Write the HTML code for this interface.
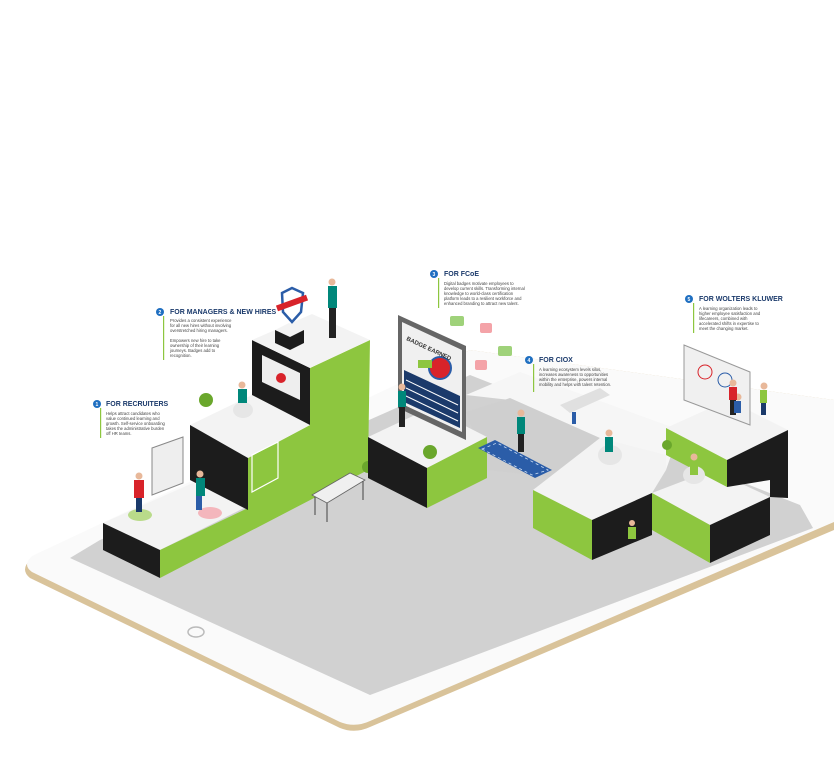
<!DOCTYPE html>
<html><head><meta charset="utf-8"><style>
html,body{margin:0;padding:0;background:#fff;}
body{width:834px;height:772px;overflow:hidden;position:relative;font-family:"Liberation Sans",sans-serif;}
svg{position:absolute;left:0;top:0;}
.h{font-weight:bold;font-size:7px;fill:#1b3a6b;}
.b{font-size:4.2px;fill:#444;}
</style></head><body>
<svg width="834" height="772" viewBox="0 0 834 772">
<!-- tablet -->
<path d="M30,560 Q20,570 30,578 L340,728 Q355,734 370,727 L834,530 L834,400 L470,350 Z" fill="#d9c39a"/>
<path d="M32,556 Q22,565 32,572 L340,722 Q355,728 370,721 L834,522 L834,400 L470,350 Z" fill="#fafafa"/>
<polygon points="70,558 370,695 813,528 800,505 470,375 100,540" fill="#d1d1d1"/>
<ellipse cx="196" cy="632" rx="8" ry="5" fill="none" stroke="#bbb" stroke-width="1.5"/>
<!-- white back area between blocks -->
<polygon points="466,395 520,372 680,430 666,470 600,440 510,400" fill="#f6f6f6"/>
<!-- corridor gray -->
<polygon points="466,412 510,398 600,438 560,478 487,470" fill="#cfcfcf"/>
<!-- block 1 -->
<polygon points="103,523 160,550 250,505 195,482" fill="#f3f3f3"/>
<polygon points="103,523 160,550 160,578 103,550" fill="#1c1c1c"/>
<!-- tower green -->
<polygon points="160,550 248,508 248,458 310,425 310,368 370,340 368,470 160,578" fill="#8dc63f"/>
<!-- step 2 -->
<polygon points="190,425 248,458 310,425 252,395" fill="#f3f3f3"/>
<polygon points="190,425 248,458 248,510 190,480" fill="#1c1c1c"/>
<polygon points="252,340 310,368 310,425 252,395" fill="#1c1c1c"/>
<polygon points="252,340 310,368 370,340 312,314" fill="#f3f3f3"/>
<polygon points="262,355 300,373 300,400 262,382" fill="#eee"/>
<circle cx="281" cy="378" r="5" fill="#d8232a"/>
<polygon points="252,455 278,442 278,478 252,492" fill="none" stroke="#fff" stroke-width="1.2"/>
<!-- bench -->
<polygon points="312,495 350,473 365,480 327,503" fill="#f0f0f0" stroke="#666" stroke-width="0.8"/>
<line x1="315" y1="497" x2="315" y2="515" stroke="#444"/><line x1="327" y1="503" x2="327" y2="522" stroke="#444"/><line x1="363" y1="481" x2="363" y2="500" stroke="#444"/>
<circle cx="368" cy="467" r="6" fill="#6aa72c"/>
<!-- block 3 -->
<polygon points="368,437 427,468 487,437 430,408" fill="#f3f3f3"/>
<polygon points="368,437 427,468 427,508 368,478" fill="#1c1c1c"/>
<polygon points="427,468 487,437 487,478 427,508" fill="#8dc63f"/>
<circle cx="430" cy="452" r="7" fill="#6aa72c"/>
<!-- badge panel -->
<polygon points="398,315 466,346 466,440 398,408" fill="#666"/>
<polygon points="402,322 462,350 462,432 402,404" fill="#f0f0f0"/>
<polygon points="404,370 460,396 460,428 404,402" fill="#1b3a6b"/>
<line x1="406" y1="380" x2="458" y2="405" stroke="#fff" stroke-width="1"/>
<line x1="406" y1="388" x2="458" y2="413" stroke="#fff" stroke-width="1"/>
<line x1="406" y1="396" x2="458" y2="421" stroke="#fff" stroke-width="1"/>
<circle cx="440" cy="368" r="11" fill="#d8232a" stroke="#2b5da8" stroke-width="2"/>
<rect x="418" y="360" width="14" height="8" fill="#8dc63f"/>
<text x="406" y="340" font-size="6" font-weight="bold" fill="#333" transform="rotate(25 406 340)">BADGE EARNED</text>
<!-- blue mat -->
<polygon points="478,448 535,478 552,470 495,440" fill="#2b5da8"/>
<polygon points="482,449 532,475 548,470 497,443" fill="none" stroke="#cfe0f5" stroke-width="0.8" stroke-dasharray="3 3"/>
<!-- kiosk -->
<polygon points="560,405 600,388 610,395 570,413" fill="#e0e0e0"/>
<rect x="572" y="412" width="4" height="12" fill="#2b5da8"/>
<!-- chat bubbles -->
<rect x="450" y="316" width="14" height="10" rx="2" fill="#9fd27a"/>
<rect x="480" y="323" width="12" height="10" rx="2" fill="#f4a3a8"/>
<rect x="498" y="346" width="14" height="10" rx="2" fill="#9fd27a"/>
<rect x="475" y="360" width="12" height="10" rx="2" fill="#f4a3a8"/>
<!-- right cluster big block -->
<polygon points="533,490 592,520 652,493 666,470 666,455 600,438" fill="#f3f3f3"/>
<polygon points="533,490 592,520 592,560 533,528" fill="#8dc63f"/>
<polygon points="592,520 652,493 652,535 592,560" fill="#1c1c1c"/>
<!-- lower right block -->
<polygon points="652,493 710,525 770,497 712,470" fill="#f3f3f3"/>
<polygon points="652,493 710,525 710,563 652,530" fill="#8dc63f"/>
<polygon points="710,525 770,497 770,535 710,563" fill="#1c1c1c"/>
<!-- block 5 -->
<polygon points="666,428 727,460 788,430 728,400" fill="#f3f3f3"/>
<polygon points="666,428 727,460 727,487 666,455" fill="#8dc63f"/>
<polygon points="727,460 788,430 788,498 770,497 770,480 727,487" fill="#1c1c1c"/>
<polygon points="684,345 750,372 750,425 684,400" fill="#f0f0f0" stroke="#999"/>
<circle cx="705" cy="372" r="7" fill="none" stroke="#d8232a"/><circle cx="725" cy="380" r="7" fill="none" stroke="#2b5da8"/>
<!-- people -->
<g fill="#e8b89a"><circle cx="139" cy="476" r="3.5"/><circle cx="200" cy="474" r="3.5"/><circle cx="242" cy="385" r="3.5"/><circle cx="332" cy="282" r="3.5"/><circle cx="402" cy="387" r="3.5"/><circle cx="521" cy="413" r="3.5"/><circle cx="609" cy="433" r="3.5"/><circle cx="694" cy="457" r="3.5"/><circle cx="733" cy="383" r="3.5"/><circle cx="764" cy="386" r="3.5"/><circle cx="738" cy="397" r="3.5"/><circle cx="632" cy="523" r="3"/></g>
<ellipse cx="140" cy="515" rx="12" ry="6" fill="#b9db8a"/><ellipse cx="210" cy="513" rx="12" ry="6" fill="#f4b6bc"/>
<rect x="134" y="480" width="10" height="18" fill="#d8232a"/><rect x="136" y="498" width="6" height="14" fill="#1b3a6b"/>
<rect x="196" y="478" width="9" height="18" fill="#00877a"/><rect x="196" y="496" width="6" height="14" fill="#2b5da8"/>
<ellipse cx="243" cy="410" rx="10" ry="8" fill="#e6e6e6"/><rect x="238" y="389" width="9" height="14" fill="#00877a"/>
<rect x="328" y="286" width="9" height="22" fill="#00877a"/><rect x="329" y="308" width="7" height="30" fill="#222"/>
<rect x="398" y="391" width="8" height="16" fill="#00877a"/><rect x="399" y="407" width="6" height="20" fill="#222"/>
<rect x="517" y="417" width="8" height="17" fill="#00877a"/><rect x="518" y="434" width="6" height="18" fill="#222"/>
<ellipse cx="610" cy="455" rx="12" ry="10" fill="#e6e6e6"/><rect x="605" y="437" width="8" height="15" fill="#00877a"/>
<ellipse cx="694" cy="475" rx="11" ry="9" fill="#e6e6e6"/><rect x="690" y="461" width="8" height="14" fill="#8dc63f"/>
<rect x="729" y="387" width="8" height="13" fill="#d8232a"/><rect x="730" y="400" width="6" height="15" fill="#222"/>
<rect x="734" y="401" width="7" height="12" fill="#2b5da8"/>
<rect x="760" y="390" width="7" height="13" fill="#8dc63f"/><rect x="761" y="403" width="5" height="12" fill="#1b3a6b"/>
<rect x="628" y="527" width="8" height="12" fill="#8dc63f"/>
<circle cx="667" cy="445" r="5" fill="#6aa72c"/>
<!-- trophy shield -->
<path d="M282 293 L292 288 L303 293 L301 312 L292 322 L283 312Z" fill="#fff" stroke="#2b5da8" stroke-width="2.5"/>
<rect x="276" y="300" width="32" height="6" fill="#d8232a" transform="rotate(-20 292 303)"/>
<polygon points="275,330 290,337 304,330 289,323" fill="#f3f3f3"/>
<polygon points="275,330 290,337 290,350 275,343" fill="#1c1c1c"/>
<polygon points="290,337 304,330 304,343 290,350" fill="#1c1c1c"/>
<circle cx="206" cy="400" r="7" fill="#6aa72c"/>
<!-- board left -->
<polygon points="152,448 183,437 183,483 152,495" fill="#eee" stroke="#888"/>
<!-- labels -->
<g>
<circle cx="97" cy="404" r="4" fill="#1f6fc1"/><text x="95.5" y="406" font-size="5" fill="#fff" font-weight="bold">1</text>
<rect x="100" y="408" width="1.2" height="30" fill="#8dc63f"/>
<text class="h" x="106" y="406">FOR RECRUITERS</text>
<text class="b" x="106" y="415">Helps attract candidates who</text>
<text class="b" x="106" y="420">value continued learning and</text>
<text class="b" x="106" y="425">growth. Self-service onboarding</text>
<text class="b" x="106" y="430">takes the administrative burden</text>
<text class="b" x="106" y="435">off HR teams.</text>
</g>
<g>
<circle cx="160" cy="312" r="4" fill="#1f6fc1"/><text x="158.5" y="314" font-size="5" fill="#fff" font-weight="bold">2</text>
<rect x="163" y="316" width="1.2" height="44" fill="#8dc63f"/>
<text class="h" x="170" y="314">FOR MANAGERS &amp; NEW HIRES</text>
<text class="b" x="170" y="322">Provides a consistent experience</text>
<text class="b" x="170" y="327">for all new hires without involving</text>
<text class="b" x="170" y="332">overstretched hiring managers.</text>
<text class="b" x="170" y="342">Empowers new hire to take</text>
<text class="b" x="170" y="347">ownership of their learning</text>
<text class="b" x="170" y="352">journeys. Badges add to</text>
<text class="b" x="170" y="357">recognition.</text>
</g>
<g>
<circle cx="434" cy="274" r="4" fill="#1f6fc1"/><text x="432.5" y="276" font-size="5" fill="#fff" font-weight="bold">3</text>
<rect x="438" y="278" width="1.2" height="30" fill="#8dc63f"/>
<text class="h" x="444" y="276">FOR FCoE</text>
<text class="b" x="444" y="285">Digital badges motivate employees to</text>
<text class="b" x="444" y="290">develop current skills. Transforming internal</text>
<text class="b" x="444" y="295">knowledge to world-class certification</text>
<text class="b" x="444" y="300">platform leads to a resilient workforce and</text>
<text class="b" x="444" y="305">enhanced branding to attract new talent.</text>
</g>
<g>
<circle cx="529" cy="360" r="4" fill="#1f6fc1"/><text x="527.5" y="362" font-size="5" fill="#fff" font-weight="bold">4</text>
<rect x="533" y="364" width="1.2" height="28" fill="#8dc63f"/>
<text class="h" x="539" y="362">FOR CIOX</text>
<text class="b" x="539" y="371">A learning ecosystem levels silos,</text>
<text class="b" x="539" y="376">increases awareness to opportunities</text>
<text class="b" x="539" y="381">within the enterprise, powers internal</text>
<text class="b" x="539" y="386">mobility and helps with talent retention.</text>
</g>
<g>
<circle cx="689" cy="299" r="4" fill="#1f6fc1"/><text x="687.5" y="301" font-size="5" fill="#fff" font-weight="bold">5</text>
<rect x="693" y="303" width="1.2" height="30" fill="#8dc63f"/>
<text class="h" x="699" y="301">FOR WOLTERS KLUWER</text>
<text class="b" x="699" y="310">A learning organization leads to</text>
<text class="b" x="699" y="315">higher employee satisfaction and</text>
<text class="b" x="699" y="320">lifecareers, combined with</text>
<text class="b" x="699" y="325">accelerated shifts in expertise to</text>
<text class="b" x="699" y="330">meet the changing market.</text>
</g>
</svg>
</body></html>
